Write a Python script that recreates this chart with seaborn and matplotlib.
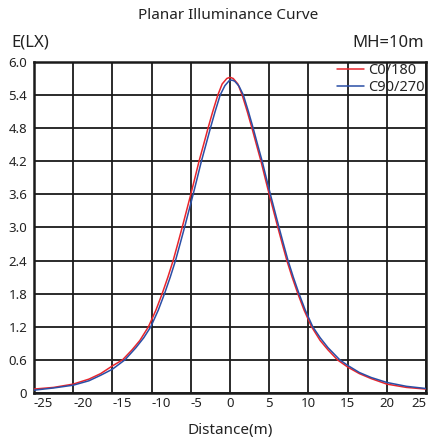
import seaborn as sns
import matplotlib.pyplot as plt
import pandas as pd

# values (x in metres, E in lux)
c0_x = [-25, -22.5, -20, -18, -16.5, -15, -13.7, -12.5, -11.5, -10.4, -9.45, -8.65,
        -7.92, -7.25, -6.67, -6.1, -5.55, -5.0, -4.47, -3.95, -3.37, -2.8, -2.2,
        -1.55, -1.0, -0.4, 0.0, 0.4, 1.0, 1.55, 2.2, 2.8, 3.37, 3.95, 4.47, 5.0,
        5.55, 6.1, 6.67, 7.25, 7.92, 8.65, 9.45, 10.4, 11.5, 12.5, 13.7, 15,
        16.5, 18, 20, 22.5, 25]
c0_y = [0.07, 0.10, 0.16, 0.25, 0.35, 0.49, 0.6, 0.78, 0.95, 1.2, 1.5, 1.8,
        2.1, 2.4, 2.7, 3.0, 3.3, 3.6, 3.9, 4.2, 4.5, 4.8, 5.1,
        5.4, 5.6, 5.70, 5.72, 5.70, 5.6, 5.4, 5.1, 4.8, 4.5, 4.2, 3.9, 3.6,
        3.3, 3.0, 2.7, 2.4, 2.1, 1.8, 1.5, 1.2, 0.95, 0.78, 0.6, 0.47,
        0.35, 0.26, 0.16, 0.10, 0.07]

c90_x = [-25, -22.5, -20, -18, -16.5, -15, -13.4, -12, -11, -10.1, -9.15, -8.35,
         -7.62, -6.95, -6.37, -5.8, -5.25, -4.7, -4.17, -3.65, -3.07, -2.5, -1.9,
         -1.25, -0.65, -0.1, 0.25, 0.6, 1.15, 1.7, 2.35, 2.95, 3.52, 4.1, 4.62, 5.15,
         5.7, 6.25, 6.82, 7.4, 8.07, 8.8, 9.6, 10.55, 11.5, 12.5, 14.0, 15,
         16.5, 18, 20, 22.5, 25]
c90_y = [0.05, 0.09, 0.14, 0.22, 0.32, 0.43, 0.6, 0.82, 1.0, 1.2, 1.5, 1.8,
         2.1, 2.4, 2.7, 3.0, 3.3, 3.6, 3.9, 4.2, 4.5, 4.8, 5.1,
         5.4, 5.57, 5.66, 5.67, 5.65, 5.56, 5.4, 5.1, 4.8, 4.5, 4.2, 3.9, 3.6,
         3.3, 3.0, 2.7, 2.4, 2.1, 1.8, 1.5, 1.2, 1.0, 0.82, 0.6, 0.5,
         0.37, 0.28, 0.19, 0.12, 0.08]

x_ticks = [-25, -20, -15, -10, -5, 0, 5, 10, 15, 20, 25]
y_ticks = [0, 0.6, 1.2, 1.8, 2.4, 3.0, 3.6, 4.2, 4.8, 5.4, 6.0]
y_labels = ["0", "0.6", "1.2", "1.8", "2.4", "3.0", "3.6", "4.2", "4.8", "5.4", "6.0"]

df = pd.concat([
    pd.DataFrame({"x": c0_x, "E": c0_y, "curve": "C0/180"}),
    pd.DataFrame({"x": c90_x, "E": c90_y, "curve": "C90/270"}),
])

sns.set_style("white")
plt.rcParams["font.family"] = ["Noto Sans", "DejaVu Sans"]
plt.rcParams["axes.unicode_minus"] = False

fig = plt.figure(figsize=(4.28, 4.42), dpi=100)
ax = fig.add_axes([0.0794, 0.111, 0.916, 0.749])

sns.lineplot(data=df, x="x", y="E", hue="curve", sort=False,
             palette={"C0/180": "#e8252c", "C90/270": "#2a4ea6"},
             linewidth=1.1, ax=ax, zorder=3)

ax.set_xlim(-25, 25)
ax.set_ylim(0, 6.0)
ax.set_xticks(x_ticks)
ax.set_xticklabels([str(t) for t in x_ticks])
ax.set_yticks(y_ticks)
ax.set_yticklabels(y_labels)
ax.tick_params(length=0, labelsize=9.5, colors="#222222")
ax.tick_params(axis="x", pad=3)
ax.tick_params(axis="y", pad=5)
for t, lab in zip(x_ticks, ax.get_xticklabels()):
    if t < 0:
        lab.set_ha("left")
    elif t == 25:
        lab.set_ha("right")
ax.grid(True, color="#1a1a1a", linewidth=1.3)
for s in ax.spines.values():
    s.set_color("#1a1a1a")
    s.set_linewidth(1.8)
ax.set_xlabel("Distance(m)", fontsize=11, color="#222222", labelpad=9)
ax.set_ylabel("")

leg = ax.legend(loc="upper right", frameon=False, fontsize=10.5, handlelength=1.8,
                handletextpad=0.3, borderaxespad=0.0, labelspacing=0.1,
                borderpad=0.1)
leg.set_zorder(1)

fig.text(0.533, 0.965, "Planar Illuminance Curve", ha="center", va="center",
         fontsize=11, color="#222222")
fig.text(0.027, 0.903, "E(LX)", ha="left", va="center", fontsize=12, color="#222222")
fig.text(0.99, 0.903, "MH=10m", ha="right", va="center", fontsize=12, color="#222222")

fig.savefig("out.png", dpi=100)
plt.close(fig)
